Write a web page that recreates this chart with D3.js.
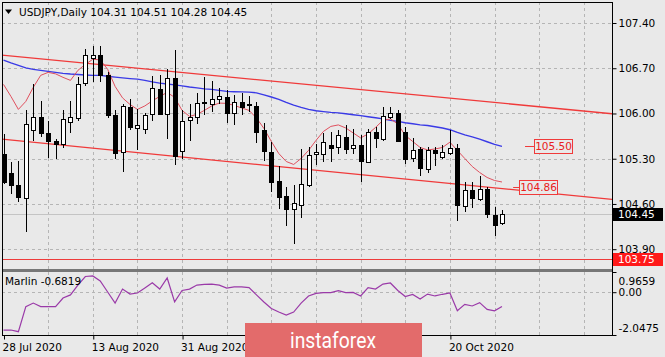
<!DOCTYPE html>
<html><head><meta charset="utf-8">
<script src="https://cdn.jsdelivr.net/npm/d3@7"></script>
<style>
html,body{margin:0;padding:0;background:#e9e9e9;overflow:hidden;}
svg{display:block;font-family:"DejaVu Sans",sans-serif;}
</style></head><body>
<svg id="c" width="665" height="357"></svg>
<script>
// ---------------- data ----------------
const symbolTitle = "USDJPY,Daily";
const lastOHLC = [104.31, 104.51, 104.28, 104.45];
const dates = [
 "28 Jul 2020","29 Jul 2020","30 Jul 2020","31 Jul 2020",
 "3 Aug 2020","4 Aug 2020","5 Aug 2020","6 Aug 2020","7 Aug 2020","10 Aug 2020","11 Aug 2020","12 Aug 2020","13 Aug 2020","14 Aug 2020",
 "17 Aug 2020","18 Aug 2020","19 Aug 2020","20 Aug 2020","21 Aug 2020","24 Aug 2020","25 Aug 2020","26 Aug 2020","27 Aug 2020","28 Aug 2020","31 Aug 2020",
 "1 Sep 2020","2 Sep 2020","3 Sep 2020","4 Sep 2020","7 Sep 2020","8 Sep 2020","9 Sep 2020","10 Sep 2020","11 Sep 2020","14 Sep 2020","15 Sep 2020","16 Sep 2020",
 "17 Sep 2020","18 Sep 2020","21 Sep 2020","22 Sep 2020","23 Sep 2020","24 Sep 2020","25 Sep 2020","28 Sep 2020","29 Sep 2020","30 Sep 2020",
 "1 Oct 2020","2 Oct 2020","5 Oct 2020","6 Oct 2020","7 Oct 2020","8 Oct 2020","9 Oct 2020","12 Oct 2020","13 Oct 2020","14 Oct 2020","15 Oct 2020","16 Oct 2020",
 "19 Oct 2020","20 Oct 2020","21 Oct 2020","22 Oct 2020","23 Oct 2020","26 Oct 2020","27 Oct 2020","28 Oct 2020","29 Oct 2020"
];
const open  = [105.38,105.08,104.89,104.70,105.74,105.94,105.70,105.57,105.52,105.86,105.93,106.46,106.87,106.90,106.60,105.98,105.40,106.10,105.77,105.77,
               106.00,106.38,106.00,106.55,105.43,105.90,105.94,106.16,106.16,106.23,106.25,106.01,106.18,106.14,106.11,105.74,105.40,104.95,104.73,104.53,
               104.59,104.90,105.38,105.38,105.52,105.48,105.63,105.47,105.52,105.26,105.71,105.60,105.94,106.01,105.72,105.31,105.45,105.14,105.43,105.34,
               105.39,105.46,104.56,104.81,104.68,104.83,104.43,104.31];
const high  = [105.69,105.25,105.27,106.06,106.46,106.20,105.88,105.61,106.05,106.20,106.56,107.00,107.05,107.05,106.64,106.06,106.15,106.23,106.07,106.01,
               106.58,106.59,106.69,106.98,106.06,106.15,106.31,106.56,106.51,106.40,106.37,106.28,106.31,106.27,106.18,105.86,105.56,105.18,104.86,104.89,
               105.45,105.48,105.53,105.70,105.72,105.74,105.82,105.76,105.66,105.76,105.79,106.10,106.10,106.05,105.79,105.62,105.48,105.48,105.48,105.51,
               105.74,105.53,104.94,104.94,105.04,104.86,104.55,104.51];
const low   = [104.91,104.76,104.63,104.16,105.58,105.63,105.31,105.29,105.46,105.70,105.89,106.43,106.49,106.48,105.93,105.29,105.09,105.74,105.43,105.69,
               105.88,105.97,105.60,105.20,105.29,105.58,105.84,105.97,106.02,106.15,105.86,105.82,105.97,106.02,105.55,105.26,104.79,104.52,104.26,103.98,
               104.39,104.87,105.21,105.25,105.25,105.38,105.38,105.38,104.94,105.24,105.46,105.58,105.92,105.57,105.22,105.25,105.04,105.08,105.18,105.29,
               105.36,104.34,104.48,104.53,104.64,104.38,104.10,104.28];
const close = [104.94,104.90,104.70,105.84,105.94,105.70,105.57,105.53,105.91,105.94,106.46,106.90,106.91,106.59,105.98,105.39,106.11,105.79,105.82,105.98,
               106.40,106.00,106.55,105.35,105.89,105.94,106.16,106.18,106.23,106.27,106.01,106.18,106.10,106.12,105.70,105.41,104.93,104.70,104.53,104.62,
               104.91,105.36,105.41,105.56,105.48,105.66,105.45,105.51,105.27,105.72,105.61,105.96,106.00,105.58,105.30,105.43,105.15,105.43,105.38,105.41,
               105.46,104.58,104.81,104.69,104.83,104.45,104.28,104.45];
// slow moving average (blue)
const maSlow = [106.825,106.783,106.745,106.706,106.683,106.667,106.652,106.636,106.621,106.611,106.604,106.596,106.590,106.590,106.577,106.563,106.551,106.540,106.531,106.512,
                106.489,106.470,106.457,106.443,106.427,106.409,106.396,106.381,106.373,106.357,106.342,106.337,106.334,106.331,106.319,106.288,106.255,106.218,106.171,106.130,
                106.094,106.063,106.043,106.029,106.017,106.009,105.996,105.981,105.967,105.950,105.934,105.916,105.893,105.877,105.857,105.842,105.823,105.815,105.795,105.775,
                105.749,105.707,105.668,105.639,105.603,105.563,105.521,105.490];
// fast moving average (red)
const maFast = [106.450,106.264,106.063,106.187,106.404,106.590,106.636,106.613,106.559,106.512,106.667,106.760,106.838,106.830,106.683,106.419,106.241,106.140,106.063,106.117,
                106.195,106.264,106.326,106.249,106.048,105.955,105.986,106.048,106.117,106.161,106.156,106.125,106.086,106.048,105.931,105.769,105.567,105.381,105.257,105.211,
                105.304,105.428,105.583,105.722,105.800,105.823,105.776,105.699,105.622,105.683,105.784,105.893,105.916,105.838,105.660,105.567,105.474,105.436,105.451,105.474,
                105.556,105.428,105.304,105.180,105.087,105.010,104.963,104.940];
// Marlin oscillator
const marlin = [-1.81,-1.81,-1.89,-0.69,-0.52,-0.69,-0.69,-0.69,-0.28,-0.13,0.34,0.75,0.78,0.54,0.01,-0.52,0.15,-0.09,-0.04,0.20,
                0.45,0.15,0.68,-0.46,0.08,0.15,0.34,0.37,0.39,0.34,0.20,0.25,0.25,0.22,-0.13,-0.47,-0.78,-0.95,-1.09,-0.95,
                -0.52,-0.18,-0.06,-0.02,-0.02,0.07,-0.02,-0.01,-0.18,0.22,0.15,0.39,0.44,0.08,-0.21,-0.11,-0.33,-0.09,-0.18,-0.10,
                -0.04,-0.89,-0.58,-0.66,-0.50,-0.82,-0.89,-0.6819];
const priceTicks = [107.40, 106.70, 106.00, 105.30, 104.60, 103.90];
const marlinTicks = [0.9659, 0.00, -2.0475];
const dateTickIdx = [0, 12, 24, 60];
const channelUpper = [[0, 106.90], [80, 106.016]];
const channelLower = [[0, 105.60], [80, 104.69]];
const supportLevel = 103.75;
const targetLabels = [105.50, 104.86];
const marlinName = "Marlin";

// ---------------- layout ----------------
const L = 2, R = 612, T = 2, MB = 269, IT = 272, IB = 335;
const BG = "#e9e9e9";
const svg = d3.select("#c");
svg.append("rect").attr("width",665).attr("height",357).attr("fill",BG);

const f2 = d3.format(".2f"), f4 = v => d3.format(".4f")(v).replace("\u2212","-");

const x  = d3.scaleLinear().domain([0, 60]).range([3.5, 449.9]);
const yP = d3.scaleLinear().domain([103.90, 107.40]).range([249.2, 23]);
const yM = d3.scaleLinear().domain([-2.0475, 0.9659]).range([IB, IT]);

const defs = svg.append("defs");
defs.append("clipPath").attr("id","cm").append("rect").attr("x",L).attr("y",T).attr("width",R-L).attr("height",MB-T);
defs.append("clipPath").attr("id","ci").append("rect").attr("x",L).attr("y",IT).attr("width",R-L).attr("height",IB-IT);

const gm = svg.append("g").attr("clip-path","url(#cm)");
const gi = svg.append("g").attr("clip-path","url(#ci)");

const gridCol = "#b5b5b5";
// vertical grid
const vIdx = d3.range(6, 84, 6);
[gm, gi].forEach((g, k) => {
  g.selectAll("line.vg").data(vIdx).join("line").attr("class","vg")
    .attr("x1", d => Math.round(x(d)) + 0.5).attr("x2", d => Math.round(x(d)) + 0.5)
    .attr("y1", k ? IT : T).attr("y2", k ? IB : MB)
    .attr("stroke", gridCol).attr("stroke-dasharray","3,3");
});
// horizontal grid
gm.selectAll("line.hg").data(priceTicks).join("line")
  .attr("x1",L).attr("x2",R).attr("y1",d=>Math.round(yP(d))+0.5).attr("y2",d=>Math.round(yP(d))+0.5)
  .attr("stroke",gridCol).attr("stroke-dasharray","3,3");
gi.append("line").attr("x1",L).attr("x2",R).attr("y1",Math.round(yM(0))+0.5).attr("y2",Math.round(yM(0))+0.5)
  .attr("stroke",gridCol).attr("stroke-dasharray","3,3");

// bid line
gm.append("line").attr("x1",L).attr("x2",R)
  .attr("y1",Math.round(yP(lastOHLC[3]))+0.5).attr("y2",Math.round(yP(lastOHLC[3]))+0.5)
  .attr("stroke","#c4c4c4");
// support line
gm.append("line").attr("x1",L).attr("x2",R)
  .attr("y1",Math.round(yP(supportLevel))+0.5).attr("y2",Math.round(yP(supportLevel))+0.5)
  .attr("stroke","#ee3b3b").attr("stroke-width",1);

// channel lines
function extend(p, a, b) {
  const s = (p[1][1]-p[0][1])/(p[1][0]-p[0][0]);
  return [[a, p[0][1]+s*(a-p[0][0])],[b, p[0][1]+s*(b-p[0][0])]];
}
const tl = d3.line().x(d=>x(d[0])).y(d=>yP(d[1]));
[channelUpper, channelLower].forEach(c => {
  gm.append("path").attr("d", tl(extend(c, -2, 84))).attr("fill","none")
    .attr("stroke","#f03a3a").attr("stroke-width",1.3);
});

// moving averages
const ml = d3.line().x((d,i)=>x(i)).y(d=>yP(d));
gm.append("path").attr("d", ml(maSlow)).attr("fill","none").attr("stroke","#3a3ae6").attr("stroke-width",1.4);
gm.append("path").attr("d", ml(maFast)).attr("fill","none").attr("stroke","#e0505e").attr("stroke-width",1);

// candles
const bars = open.map((o,i)=>({i,o,h:high[i],l:low[i],c:close[i]}));
const cg = gm.append("g").attr("shape-rendering","crispEdges");
cg.selectAll("line.w").data(bars).join("line")
  .attr("x1",d=>Math.round(x(d.i))+0.5).attr("x2",d=>Math.round(x(d.i))+0.5)
  .attr("y1",d=>yP(d.h)).attr("y2",d=>yP(d.l)).attr("stroke","#000");
cg.selectAll("rect.b").data(bars).join("rect")
  .attr("x",d=>Math.round(x(d.i))-1.5).attr("width",4)
  .attr("y",d=>Math.round(yP(Math.max(d.o,d.c)))+0.5)
  .attr("height",d=>Math.max(0.01, Math.round(Math.abs(yP(d.o)-yP(d.c)))))
  .attr("fill",d=>d.c>=d.o?"#fff":"#000").attr("stroke","#000");

// target labels (price markers)
const mk = [{v:targetLabels[0], a:70.1, b:71.3}, {v:targetLabels[1], a:68.5, b:69.3}];
mk.forEach(m => {
  const yy = Math.round(yP(m.v)) + 0.5;
  gm.append("line").attr("x1",x(m.a)).attr("x2",x(m.b)).attr("y1",yy).attr("y2",yy).attr("stroke","#f03a3a");
  const bx = Math.round(x(m.b)) + 0.5;
  gm.append("rect").attr("x",bx).attr("y",yy-7).attr("width",38).attr("height",14)
    .attr("fill",BG).attr("stroke","#f03a3a");
  gm.append("text").attr("x",bx+19).attr("y",yy).attr("dy","0.36em").attr("text-anchor","middle")
    .attr("font-size","10.5px").attr("fill","#e82020").text(f2(m.v));
});

// marlin line
const il = d3.line().x((d,i)=>x(i)).y(d=>yM(d));
gi.append("path").attr("d", il(marlin)).attr("fill","none").attr("stroke","#9a3aa8").attr("stroke-width",1.2);

// panel separator and frame
svg.append("rect").attr("x",L).attr("y",MB).attr("width",R-L).attr("height",IT-MB).attr("fill","#777");
svg.append("path").attr("d",`M${L+0.5},${T+0.5}H${R+0.5}V${IB+0.5}H${L+0.5}Z`)
  .attr("fill","none").attr("stroke","#000").attr("shape-rendering","crispEdges");

// price axis
const pa = svg.append("g").attr("transform",`translate(${R+0.5},0)`)
  .call(d3.axisRight(yP).tickValues(priceTicks).tickFormat(f2).tickSize(4).tickPadding(2));
pa.select(".domain").remove();
pa.selectAll("text").attr("font-size","10.5px").attr("font-family","DejaVu Sans").attr("fill","#000");
pa.selectAll("line").attr("stroke","#000");

// current price and support boxes on axis
function axisBox(v, fill) {
  const yy = Math.round(yP(v));
  svg.append("rect").attr("x",R+1).attr("y",yy-6).attr("width",50).attr("height",13).attr("fill",fill);
  svg.append("text").attr("x",R+6).attr("y",yy+0.5).attr("dy","0.36em").attr("font-size","10.5px")
    .attr("fill","#fff").text(f2(v));
}
axisBox(lastOHLC[3], "#000");
axisBox(supportLevel, "#ff1a1a");

// marlin axis
const ia = svg.append("g").attr("transform",`translate(${R+0.5},0)`)
  .call(d3.axisRight(yM).tickValues(marlinTicks).tickFormat(d=>d===0?"0.00":f4(d)).tickSize(4).tickPadding(2));
ia.select(".domain").remove();
ia.selectAll("text").attr("font-size","10.5px").attr("font-family","DejaVu Sans").attr("fill","#000")
  .attr("dy", d => d===marlinTicks[0] ? "1.2em" : d===marlinTicks[2] ? "-0.3em" : "0.32em");
ia.selectAll("line").attr("stroke","#000");

// date axis
const da = svg.append("g").attr("transform",`translate(0,${IB+0.5})`)
  .call(d3.axisBottom(x).tickValues(dateTickIdx).tickFormat(i=>dates[i]).tickSize(4).tickPadding(4));
da.select(".domain").remove();
da.selectAll(".tick line").attr("stroke","#000").attr("transform","translate(0.5,0)");
da.selectAll("text").attr("font-size","10.5px").attr("font-family","DejaVu Sans").attr("fill","#000")
  .attr("text-anchor","start").attr("x",-1.5);

// title
svg.append("path").attr("d","M5,9.5H12L8.5,14Z").attr("fill","#000");
svg.append("text").attr("x",19).attr("y",12).attr("dy","0.36em").attr("font-size","10.5px").attr("fill","#000")
  .attr("xml:space","preserve")
  .text(symbolTitle + " " + lastOHLC.map(f2).join(" "));
// indicator title
svg.append("text").attr("x",5).attr("y",281).attr("dy","0.36em").attr("font-size","10.5px").attr("fill","#000")
  .text(marlinName + " " + f4(marlin[marlin.length-1]));

// watermark
svg.append("rect").attr("x",245).attr("y",323).attr("width",177).attr("height",40).attr("fill","#e36b6b");
svg.append("text").attr("x",333).attr("y",348).attr("text-anchor","middle").attr("font-family","Roboto")
  .attr("font-size","22px").attr("fill","#fff").attr("textLength",86).attr("lengthAdjust","spacingAndGlyphs")
  .text("instaforex");
</script>
</body></html>
